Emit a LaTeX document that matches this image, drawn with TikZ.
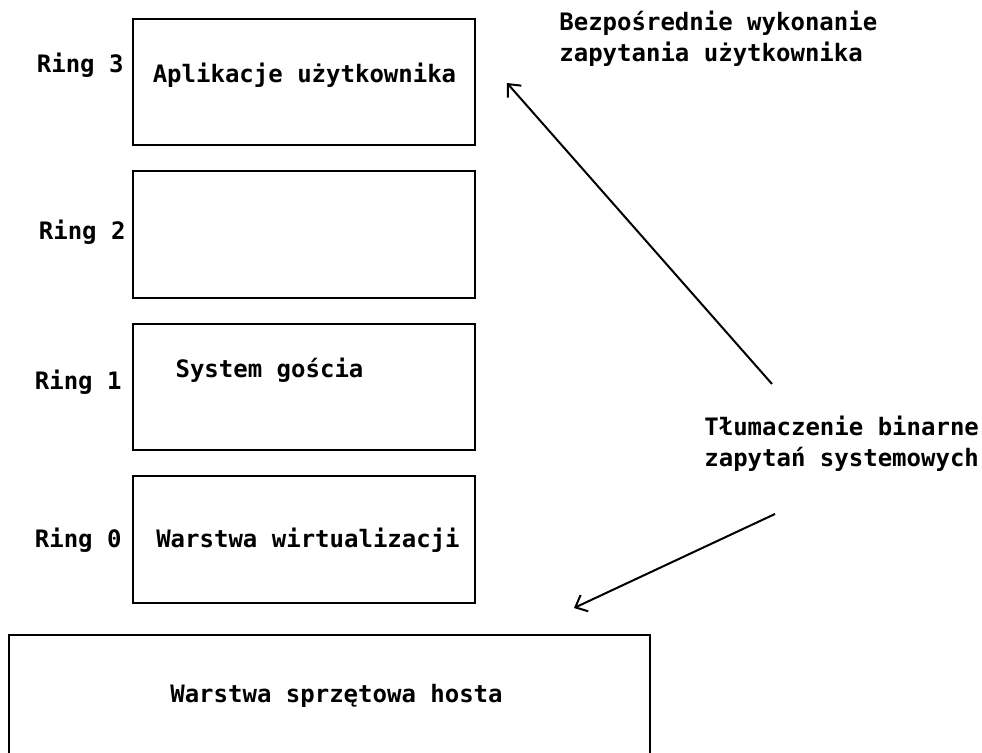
\documentclass[tikz,border=0pt]{standalone}
\usepackage{fontspec}
\setmonofont{DejaVu Sans Mono}
\usetikzlibrary{positioning, arrows.meta}

\begin{document}
\begin{tikzpicture}[x=0.5pt, y=-0.5pt,
     node distance = 12pt and 5pt,
          >= {Straight Barb[length=5pt, width=9pt]},
        txt/.style = {font=\ttfamily\bfseries\fontsize{12}{15.8}\selectfont, inner sep=0pt},
       ring/.style = {rectangle, draw, line width=1pt, minimum width=171pt, minimum height=63.25pt, inner sep=0pt},
       host/.style = {rectangle, draw, line width=1pt, minimum width=320.5pt, minimum height=60pt, inner sep=0pt}
                        ]
\useasboundingbox (0,0) rectangle (982,753);
% rings
\node (r3) [ring] at (304,82.25) {};
\node (r2) [ring,below =of r3] {};
\node (r1) [ring,below =of r2] {};
\node (r0) [ring,below =of r1] {};
\node (hw) [host] at (329.5,695) {};
% labels
\node (l3) [txt,anchor=base east] at (124,73)  {Ring 3};
\node (l2) [txt,anchor=base east] at (126,240) {Ring 2};
\node (l1) [txt,anchor=base east] at (122,390) {Ring 1};
\node (l0) [txt,anchor=base east] at (122,548) {Ring 0};
\node (t3) [txt,anchor=base] at (304.5,83)  {Aplikacje użytkownika};
\node (t1) [txt,anchor=base] at (269.5,378) {System gościa};
\node (t0) [txt,anchor=base] at (308,548)   {Warstwa wirtualizacji};
\node (th) [txt,anchor=base] at (336.5,703) {Warstwa sprzętowa hosta};
\node (direct) [txt,anchor=base west,align=left] at (559,62)
      {Bezpośrednie wykonanie\\zapytania użytkownika};
\node (binary) [txt,anchor=base west,align=left] at (704,467)
      {Tłumaczenie binarne\\zapytań systemowych};
% arrows
\coordinate (a1) at (772,384);
\coordinate (a2) at (507,83);
\coordinate (b1) at (775,514);
\coordinate (b2) at (574,608);
\draw[->, line width=1pt] (a1) to (a2);
\draw[->, line width=1pt] (b1) to (b2);
\end{tikzpicture}
\end{document}
